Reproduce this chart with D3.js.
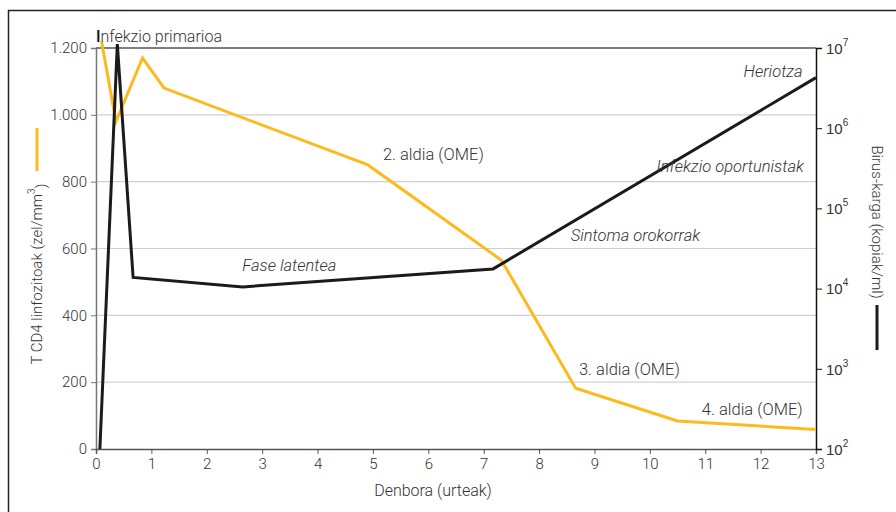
<!DOCTYPE html>
<html>
<head>
<meta charset="utf-8">
<script src="https://cdn.jsdelivr.net/npm/d3@7"></script>
<style>
  html, body { margin: 0; padding: 0; background: #fff; }
  svg { display: block; font-family: Roboto, "Liberation Sans", sans-serif; }
  text { fill: #333; }
</style>
</head>
<body>
<svg id="chart" width="896" height="512"></svg>
<script>
// Time axis (years)
const xTicks = [0, 1, 2, 3, 4, 5, 6, 7, 8, 9, 10, 11, 12, 13];
// CD4 T lymphocytes (cells/mm3)
const cd4Years = [0.1, 0.36, 0.84, 1.23, 4.91, 7.32, 8.66, 10.5, 13];
const cd4Values = [1220, 980, 1170, 1080, 850, 565, 182, 84, 58];
const cd4Ticks = [0, 200, 400, 600, 800, 1000, 1200];
// Viral load (copies/ml)
const viralYears = [0.07, 0.385, 0.67, 2.65, 7.17, 13];
const viralValues = [100, 11200000, 13800, 10500, 17600, 4270000];
const viralExponents = [2, 3, 4, 5, 6, 7];

// Stage annotations
const notes = [
  { text: "2. aldia (OME)", x: 5.18, y: 865, italic: false, anchor: "start" },
  { text: "3. aldia (OME)", x: 8.72, y: 221, italic: false, anchor: "start" },
  { text: "4. aldia (OME)", x: 12.76, y: 102, italic: false, anchor: "end" },
  { text: "Fase latentea", x: 2.64, y: 533, italic: true, anchor: "start" },
  { text: "Sintoma orokorrak", x: 8.57, y: 622, italic: true, anchor: "start" },
  { text: "Infekzio oportunistak", x: 12.78, y: 829, italic: true, anchor: "end" },
  { text: "Heriotza", x: 12.76, y: 1113, italic: true, anchor: "end" }
];

const svg = d3.select("#chart");
const plotL = 96, plotR = 816, plotT = 48, plotB = 449;

const x = d3.scaleLinear().domain([0, 13]).range([plotL, plotR]);
const yL = d3.scaleLinear().domain([0, 1200]).range([plotB, plotT]);
const yR = d3.scaleLog().domain([1e2, 1e7]).range([plotB, plotT]);

// Outer frame
svg.append("rect").attr("x", 8.5).attr("y", 10.5).attr("width", 900).attr("height", 520)
  .attr("fill", "none").attr("stroke", "#222").attr("stroke-width", 1.5);

// Gridlines from the CD4 axis
svg.append("g").selectAll("line").data(cd4Ticks.filter(d => d > 0 && d < 1200)).join("line")
  .attr("x1", plotL).attr("x2", plotR)
  .attr("y1", d => yL(d)).attr("y2", d => yL(d))
  .attr("stroke", "#d0d0d0").attr("stroke-width", 1.2);

// Plot top border
svg.append("line").attr("x1", plotL).attr("x2", plotR).attr("y1", plotT).attr("y2", plotT)
  .attr("stroke", "#555").attr("stroke-width", 1.5);

// Left axis
const gL = svg.append("g").attr("transform", `translate(${plotL},0)`)
  .call(d3.axisLeft(yL).tickValues(cd4Ticks).tickSize(5).tickPadding(4)
    .tickFormat(d => d3.format(",")(d).replace(",", ".")));
gL.select(".domain").attr("stroke", "#777").attr("stroke-width", 1.5);
gL.selectAll(".tick line").attr("stroke", "#777");
gL.selectAll("text").attr("font-size", 15).attr("fill", "#333").attr("font-family", "Roboto, sans-serif").attr("font-weight", 300);

// Bottom axis
const gB = svg.append("g").attr("transform", `translate(0,${plotB})`)
  .call(d3.axisBottom(x).tickValues(xTicks).tickSize(5).tickPadding(4).tickFormat(d3.format("d")));
gB.select(".domain").attr("stroke", "#555").attr("stroke-width", 1.5);
gB.selectAll(".tick line").attr("stroke", "#555");
gB.selectAll("text").attr("font-size", 15).attr("fill", "#333").attr("font-family", "Roboto, sans-serif").attr("font-weight", 300);

// Right axis (log)
const gR = svg.append("g").attr("transform", `translate(${plotR},0)`)
  .call(d3.axisRight(yR).tickValues(viralExponents.map(e => Math.pow(10, e))).tickSize(6).tickPadding(4).tickFormat(""));
gR.select(".domain").attr("stroke", "#111").attr("stroke-width", 1.5);
gR.selectAll(".tick line").attr("stroke", "#111");
gR.selectAll(".tick").each(function(d) {
  const t = d3.select(this).append("text").attr("x", 10).attr("dy", "0.35em")
    .attr("font-size", 15).attr("font-weight", 300).attr("text-anchor", "start");
  t.append("tspan").text("10");
  t.append("tspan").attr("font-size", 10).attr("dy", "-0.8em").text(Math.round(Math.log10(d)));
});

// Lines
const cd4Line = d3.line().x((d, i) => x(cd4Years[i])).y(d => yL(d));
svg.append("path").datum(cd4Values).attr("d", cd4Line)
  .attr("fill", "none").attr("stroke", "#FDBA1E").attr("stroke-width", 3).attr("stroke-linejoin", "miter");

const viralLine = d3.line().x((d, i) => x(viralYears[i])).y(d => yR(d));
svg.append("path").datum(viralValues).attr("d", viralLine)
  .attr("fill", "none").attr("stroke", "#1c1a1a").attr("stroke-width", 3).attr("stroke-linejoin", "miter");

// Annotations
svg.append("text").attr("x", plotL).attr("y", 42).attr("font-size", 16).attr("font-weight", 300)
  .call(t => {
    t.append("tspan").attr("fill", "#111").attr("font-weight", 500).text("I");
    t.append("tspan").text("nfekzio primarioa");
  });
svg.append("g").selectAll("text").data(notes).join("text")
  .attr("x", d => x(d.x)).attr("y", d => yL(d.y))
  .attr("text-anchor", d => d.anchor)
  .attr("font-size", 16.5).attr("font-weight", 300)
  .attr("font-style", d => d.italic ? "italic" : "normal")
  .text(d => d.text);

// Axis titles
svg.append("text").attr("x", 433).attr("y", 496).attr("text-anchor", "middle")
  .attr("font-size", 16).attr("font-weight", 300).text("Denbora (urteak)");

svg.append("text").attr("transform", "translate(42,274) rotate(-90)").attr("text-anchor", "middle")
  .attr("font-size", 15).attr("font-weight", 300)
  .call(t => {
    t.append("tspan").text("T CD4 linfozitoak (zel/mm");
    t.append("tspan").attr("font-size", 10).attr("dy", "-0.7em").text("3");
    t.append("tspan").attr("dy", "0.7em").text(")");
  });
svg.append("line").attr("x1", 37).attr("x2", 37).attr("y1", 128).attr("y2", 171)
  .attr("stroke", "#FDBA1E").attr("stroke-width", 3);

svg.append("text").attr("transform", "translate(872,222) rotate(90)").attr("text-anchor", "middle")
  .attr("font-size", 15).attr("font-weight", 300).text("Birus-karga (kopiak/ml)");
svg.append("line").attr("x1", 877).attr("x2", 877).attr("y1", 305).attr("y2", 350)
  .attr("stroke", "#1c1a1a").attr("stroke-width", 3);
</script>
</body>
</html>
